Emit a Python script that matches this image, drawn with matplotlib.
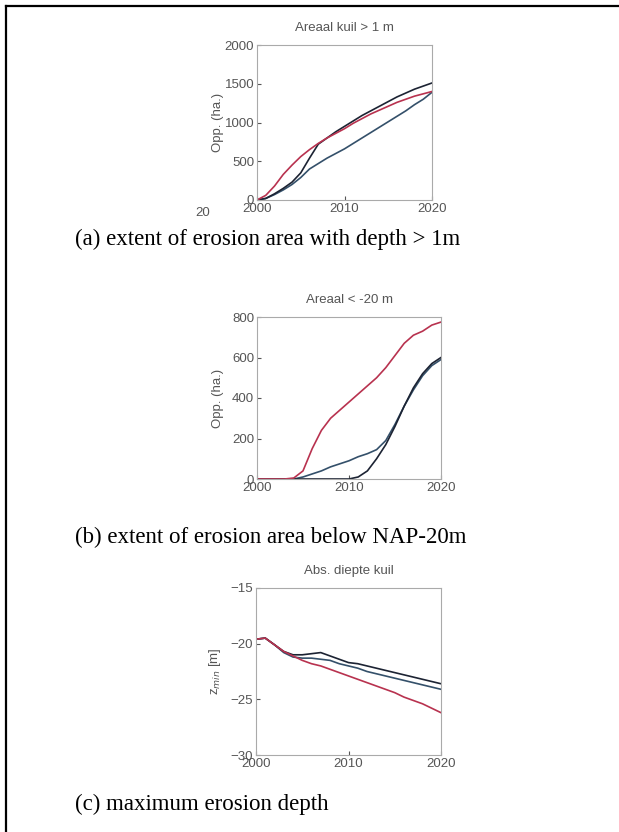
import matplotlib
matplotlib.use('Agg')
import matplotlib.pyplot as plt
from matplotlib.lines import Line2D

# jaren op de x-as
years = list(range(2000, 2021))

# (a) areaal kuil > 1 m  [ha]
area1_black = [0, 20, 80, 150, 230, 350, 540, 720, 800, 880, 950, 1020, 1090, 1150, 1210, 1270, 1330, 1380, 1430, 1470, 1510]
area1_slate = [0, 20, 70, 130, 200, 290, 400, 470, 540, 600, 660, 730, 800, 870, 940, 1010, 1080, 1150, 1230, 1300, 1390]
area1_red = [0, 60, 180, 330, 450, 560, 650, 730, 800, 860, 920, 990, 1050, 1110, 1160, 1210, 1260, 1300, 1340, 1370, 1400]

# (b) areaal < -20 m  [ha]
area20_black = [0, 0, 0, 0, 0, 0, 0, 0, 0, 0, 0, 10, 40, 100, 170, 260, 360, 450, 520, 570, 600]
area20_slate = [0, 0, 0, 0, 0, 10, 25, 40, 60, 75, 90, 110, 125, 145, 190, 270, 360, 440, 510, 560, 590]
area20_red = [0, 0, 0, 0, 5, 40, 150, 240, 300, 340, 380, 420, 460, 500, 550, 610, 670, 710, 730, 760, 775]

# (c) absolute diepte kuil [m]
depth_black = [-19.6, -19.5, -20.1, -20.7, -21.0, -21.0, -20.9, -20.8, -21.1, -21.4, -21.7, -21.8, -22.0, -22.2, -22.4, -22.6, -22.8, -23.0, -23.2, -23.4, -23.6]
depth_slate = [-19.6, -19.5, -20.1, -20.8, -21.2, -21.3, -21.3, -21.4, -21.5, -21.8, -22.0, -22.2, -22.5, -22.7, -22.9, -23.1, -23.3, -23.5, -23.7, -23.9, -24.1]
depth_red = [-19.6, -19.5, -20.1, -20.7, -21.1, -21.5, -21.8, -22.0, -22.3, -22.6, -22.9, -23.2, -23.5, -23.8, -24.1, -24.4, -24.8, -25.1, -25.4, -25.8, -26.2]

x_ticks = [2000, 2010, 2020]
c_black, c_slate, c_red = '#1c2333', '#34506a', '#b8324f'

W, H = 619, 832
fig = plt.figure(figsize=(W / 100, H / 100), dpi=100)
plt.rcParams['font.family'] = ['Liberation Sans', 'DejaVu Sans']

def px_axes(left, top, right, bottom):
    return fig.add_axes([left / W, 1 - bottom / H, (right - left) / W, (bottom - top) / H])

def style(ax, title, ylabel, ylim, yticks, pad, width_px):
    ax.set_xlim(2000, 2020)
    ax.set_ylim(*ylim)
    ax.set_xticks(x_ticks)
    ax.set_yticks(yticks)
    ax.set_title(title, fontsize=9.5, color='#555555', pad=pad)
    ax.set_ylabel(ylabel, fontsize=9.5, color='#555555')
    # label vlak naast de tick-labels
    ax.yaxis.set_label_coords(-33 / width_px, 0.5)
    ax.tick_params(direction='in', length=3, labelsize=9.5, colors='#555555', pad=2)
    for s in ax.spines.values():
        s.set_color('#aaaaaa')
        s.set_linewidth(0.8)

ax1 = px_axes(257, 45, 432, 200)
ax1.plot(years, area1_slate, color=c_slate, lw=1.2)
ax1.plot(years, area1_black, color=c_black, lw=1.2)
ax1.plot(years, area1_red, color=c_red, lw=1.2)
style(ax1, 'Areaal kuil > 1 m', 'Opp. (ha.)', (0, 2000), [0, 500, 1000, 1500, 2000], 10, 175)

ax2 = px_axes(257, 317, 441, 479)
ax2.plot(years, area20_slate, color=c_slate, lw=1.2)
ax2.plot(years, area20_black, color=c_black, lw=1.2)
ax2.plot(years, area20_red, color=c_red, lw=1.2)
style(ax2, 'Areaal < -20 m', 'Opp. (ha.)', (0, 800), [0, 200, 400, 600, 800], 10, 184)

ax3 = px_axes(256, 588, 441, 755)
ax3.plot(years, depth_slate, color=c_slate, lw=1.2)
ax3.plot(years, depth_black, color=c_black, lw=1.2)
ax3.plot(years, depth_red, color=c_red, lw=1.2)
style(ax3, 'Abs. diepte kuil', 'z$_{min}$ [m]', (-30, -15), [-30, -25, -20, -15], 10, 185)

# losse label-rest links onder paneel (a)
fig.text(203 / W, 1 - 213 / H, '20', fontsize=9.5, color='#555555', ha='center', va='center')

# onderschriften
cap = dict(fontsize=16.5, family='Liberation Serif', ha='left', va='baseline')
fig.text(75 / W, 1 - 245 / H, '(a) extent of erosion area with depth > 1m', **cap)
fig.text(75 / W, 1 - 543 / H, '(b) extent of erosion area below NAP-20m', **cap)
fig.text(75 / W, 1 - 810 / H, '(c) maximum erosion depth', **cap)

# kader links en boven
fig.add_artist(Line2D([6 / W, 6 / W], [0, 1 - 6 / H], color='black', lw=1.6, transform=fig.transFigure))
fig.add_artist(Line2D([6 / W, 1], [1 - 6 / H, 1 - 6 / H], color='black', lw=1.6, transform=fig.transFigure))

fig.savefig('out.png', dpi=100)
